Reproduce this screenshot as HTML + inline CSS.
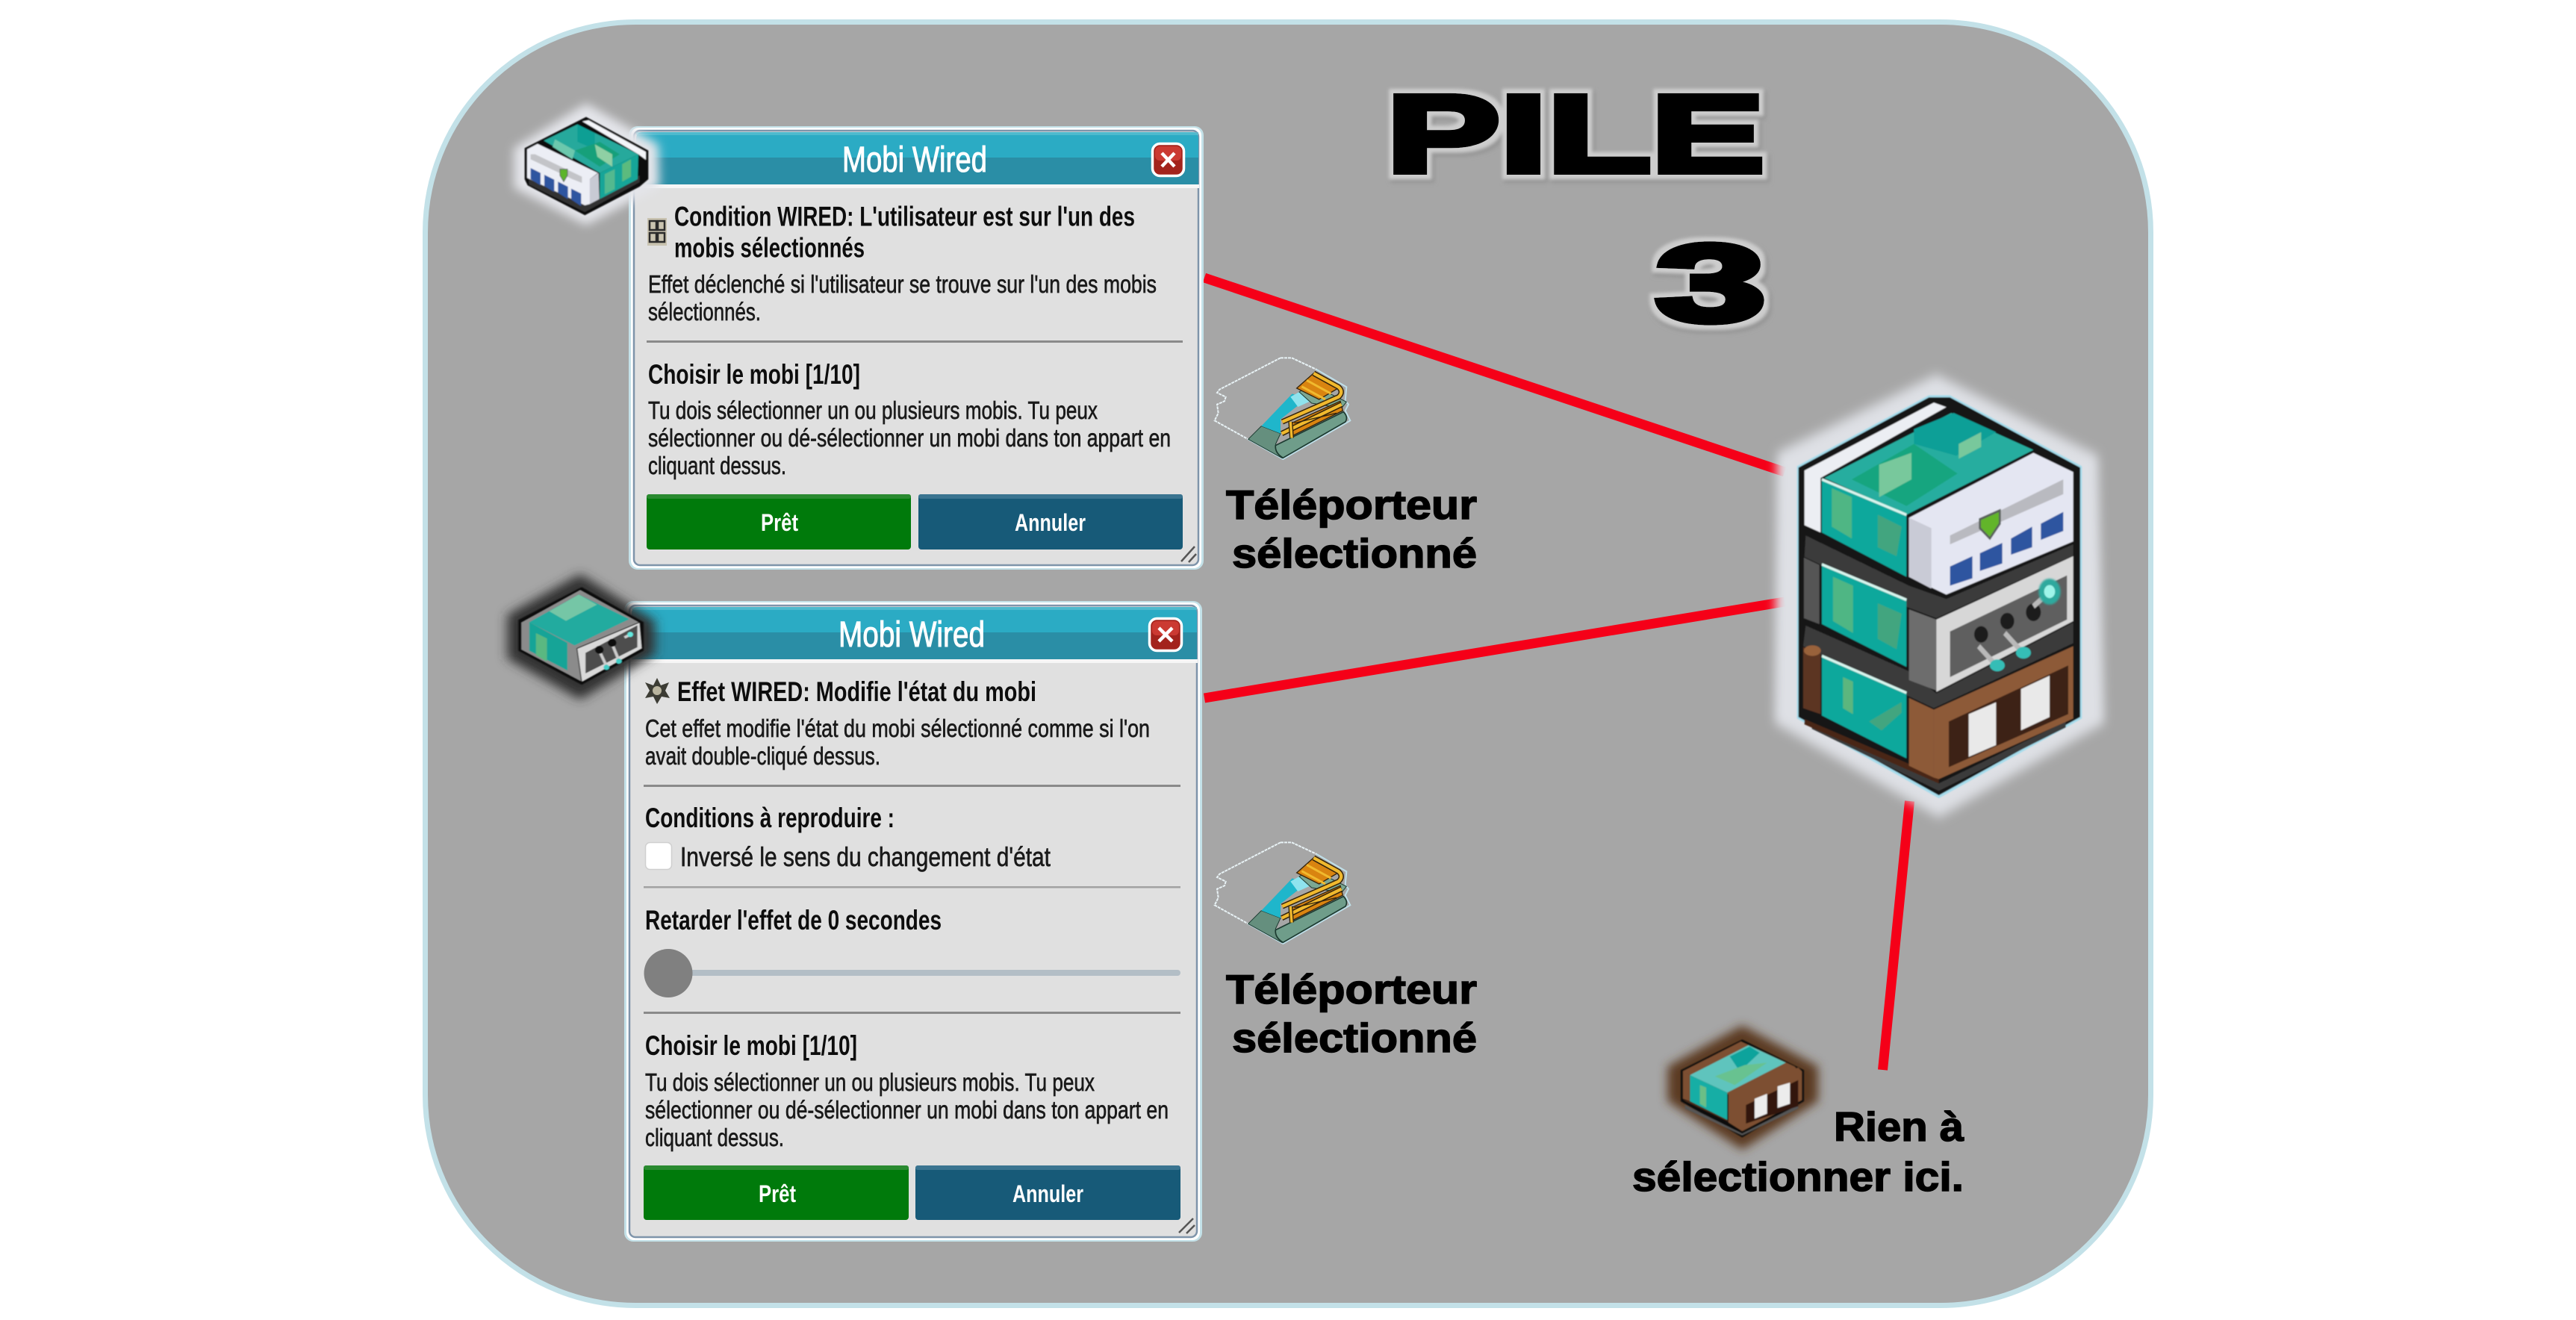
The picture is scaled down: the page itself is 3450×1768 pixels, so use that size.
<!DOCTYPE html>
<html lang="fr"><head><meta charset="utf-8"><title>Pile 3</title>
<style>
html,body{margin:0;padding:0;background:#fff;width:3450px;height:1768px;overflow:hidden}
svg{display:block}
text{font-family:"Liberation Sans",sans-serif}
.b{font-size:33px;fill:#1a1a1a;stroke:#1a1a1a;stroke-width:.65px}
.h{font-size:37px;font-weight:bold;fill:#0d0d0d}
.t{font-size:48px;fill:#fff;stroke:#fff;stroke-width:1px}
.w{font-size:32px;font-weight:bold;fill:#fff}
.l{font-size:54.5px;font-weight:bold;fill:#000;stroke:#000;stroke-width:1.5px}
.p{font-size:147px;font-weight:bold;fill:#000;stroke:#000;stroke-width:8px;stroke-linejoin:miter}
</style></head><body>
<svg width="3450" height="1768" viewBox="0 0 3450 1768" xmlns="http://www.w3.org/2000/svg">
<defs>
<filter id="bl3" x="-30%" y="-30%" width="160%" height="160%"><feGaussianBlur stdDeviation="3"/></filter>
<filter id="bl14" x="-30%" y="-30%" width="160%" height="160%"><feGaussianBlur stdDeviation="12"/></filter>
<filter id="bl20" x="-30%" y="-30%" width="160%" height="160%"><feGaussianBlur stdDeviation="20"/></filter>
<filter id="soft" x="-5%" y="-5%" width="110%" height="110%"><feGaussianBlur stdDeviation="2.2"/></filter>
<filter id="soft1" x="-5%" y="-5%" width="110%" height="110%"><feGaussianBlur stdDeviation="1.1"/></filter>
<filter id="halo" x="-15%" y="-30%" width="130%" height="160%">
<feMorphology in="SourceAlpha" operator="dilate" radius="6" result="d"/>
<feGaussianBlur in="d" stdDeviation="2" result="db"/>
<feFlood flood-color="#cdcdcd"/><feComposite in2="db" operator="in" result="g"/>
<feOffset in="SourceAlpha" dx="3" dy="4" result="o"/>
<feMorphology in="o" operator="dilate" radius="7" result="od"/>
<feGaussianBlur in="od" stdDeviation="3" result="ob"/>
<feFlood flood-color="#8a8a8a" flood-opacity=".6"/><feComposite in2="ob" operator="in" result="s"/>
<feMerge><feMergeNode in="s"/><feMergeNode in="g"/><feMergeNode in="SourceGraphic"/></feMerge>
</filter>
<g id="tele">
<path d="M345,88 L390,88 L490,135 M345,88 L100,215 L90,228 L125,245 L120,262 L90,275 L95,310 L80,340 L215,415" fill="none" stroke="#e8f2f5" stroke-width="6" stroke-dasharray="12 3"/>
<path d="M490,135 L610,205 L605,260 L618,275 L605,300 L625,340 L355,495 L215,415" fill="none" stroke="#bfe0ea" stroke-width="6"/>
<polygon points="215,415 268,362 345,392 325,435 350,490" fill="#658f7e" stroke="#1c3a30" stroke-width="3"/>
<path d="M325,440 L598,305 Q618,325 606,345 L355,490 Q322,470 325,440 Z" fill="#6f9d8a" stroke="#1c3a30" stroke-width="5"/>
<polygon points="268,362 392,232 450,252 345,335 345,392" fill="#1fb6cb"/>
<polygon points="385,245 420,225 465,262 415,285" fill="#8fe3ee"/>
<polygon points="420,225 470,195 610,265 590,290 470,270" fill="#7ba792" stroke="#1c3a30" stroke-width="3"/>
<polygon points="410,210 480,148 585,205 500,255" fill="#d98410" stroke="#33230c" stroke-width="4"/>
<polygon points="385,352 585,262 595,300 395,400" fill="#d98410" stroke="#33230c" stroke-width="4"/>
<path d="M478,150 L578,205 Q600,225 578,245 L352,345" fill="none" stroke="#33230c" stroke-width="22"/>
<path d="M478,150 L578,205 Q600,225 578,245 L352,345" fill="none" stroke="#f0b92e" stroke-width="13"/>
<path d="M350,392 L590,275" fill="none" stroke="#33230c" stroke-width="22"/>
<path d="M350,392 L590,275" fill="none" stroke="#f0b92e" stroke-width="13"/>
<path d="M385,345 L390,410" fill="none" stroke="#33230c" stroke-width="18"/>
<path d="M385,345 L390,410" fill="none" stroke="#f0b92e" stroke-width="10"/>
<path d="M450,178 L548,232 M430,203 L525,255" stroke="#f0b92e" stroke-width="9" fill="none"/>
<path d="M400,350 L570,310" stroke="#33230c" stroke-width="4" fill="none"/>
</g>
</defs>

<rect x="0" y="0" width="3450" height="1768" fill="#fff"/>
<rect x="569.5" y="29.5" width="2311" height="1719" rx="282" ry="282" fill="#a6a6a6" stroke="#c3e1e8" stroke-width="7"/>

<!-- connectors -->
<line x1="1613" y1="372" x2="2390" y2="632" stroke="#f50018" stroke-width="13"/>
<line x1="1613" y1="935" x2="2390" y2="806" stroke="#f50018" stroke-width="13"/>
<line x1="2557.5" y1="1073" x2="2521.5" y2="1433" stroke="#f50018" stroke-width="13"/>

<!-- Panel 1 -->
<rect x="842" y="169" width="770" height="594" rx="12" fill="#c3e1e8"/>
<rect x="845" y="171" width="764" height="590" rx="10" fill="#fff"/>
<rect x="849" y="175" width="756" height="582" rx="8" fill="#e0e0e0" stroke="#7e94aa" stroke-width="2.5"/>
<path d="M852,186 q0,-9 9,-9 H1596 q9,0 9,9 V211 H852 Z" fill="#2babc4"/>
<rect x="852" y="177" width="753" height="4" fill="#5cc0d3" opacity=".7"/>
<rect x="852" y="211" width="753" height="36" fill="#2a8ea6"/>
<rect x="851" y="247" width="755" height="5" fill="#f6f6f6"/>
<text class="t" x="1128" y="230" textLength="194" lengthAdjust="spacingAndGlyphs">Mobi Wired</text>
<rect x="1543.5" y="192.5" width="42" height="43" rx="10" fill="#a3231c" stroke="#fff" stroke-width="3.5"/>
<rect x="1547" y="196" width="35" height="19" rx="6" fill="#cb3a32"/>
<path d="M1556,205 L1573,223 M1573,205 L1556,223" stroke="#fff" stroke-width="4.5"/>
<g>
<rect x="867" y="292" width="26" height="37" fill="#c9c3b0"/>
<rect x="870" y="296" width="9" height="12" fill="none" stroke="#2b2b2b" stroke-width="2.5"/><rect x="881" y="296" width="9" height="12" fill="none" stroke="#2b2b2b" stroke-width="2.5"/>
<rect x="870" y="312" width="9" height="12" fill="none" stroke="#2b2b2b" stroke-width="2.5"/><rect x="881" y="312" width="9" height="12" fill="none" stroke="#2b2b2b" stroke-width="2.5"/>
</g>
<text class="h" x="903" y="302.5" textLength="617" lengthAdjust="spacingAndGlyphs">Condition WIRED: L'utilisateur est sur l'un des</text>
<text class="h" x="903" y="344.5" textLength="255" lengthAdjust="spacingAndGlyphs">mobis sélectionnés</text>
<text class="b" x="868" y="392" textLength="681" lengthAdjust="spacingAndGlyphs">Effet déclenché si l'utilisateur se trouve sur l'un des mobis</text>
<text class="b" x="868" y="429" textLength="151" lengthAdjust="spacingAndGlyphs">sélectionnés.</text>
<rect x="866" y="456" width="718" height="3" fill="#8a8a8a"/>
<text class="h" x="868" y="514" textLength="284" lengthAdjust="spacingAndGlyphs">Choisir le mobi [1/10]</text>
<text class="b" x="868" y="561" textLength="602" lengthAdjust="spacingAndGlyphs">Tu dois sélectionner un ou plusieurs mobis. Tu peux</text>
<text class="b" x="868" y="598" textLength="700" lengthAdjust="spacingAndGlyphs">sélectionner ou dé-sélectionner un mobi dans ton appart en</text>
<text class="b" x="868" y="635" textLength="185" lengthAdjust="spacingAndGlyphs">cliquant dessus.</text>
<rect x="866" y="662" width="354" height="74" rx="4" fill="#007a0b"/><rect x="866" y="662" width="354" height="6" rx="3" fill="#2a8a30"/>
<rect x="1230" y="662" width="354" height="74" rx="4" fill="#175a78"/><rect x="1230" y="662" width="354" height="6" rx="3" fill="#3a7490"/>
<text class="w" x="1019" y="711" textLength="50" lengthAdjust="spacingAndGlyphs">Prêt</text>
<text class="w" x="1359" y="711" textLength="95" lengthAdjust="spacingAndGlyphs">Annuler</text>
<path d="M1582,752 L1600,732 M1592,753 L1602,742" stroke="#555" stroke-width="2.5"/>

<!-- Panel 2 -->
<rect x="836" y="805" width="774" height="858" rx="12" fill="#c3e1e8"/>
<rect x="839" y="807" width="768" height="854" rx="10" fill="#fff"/>
<rect x="843" y="811" width="760" height="846" rx="8" fill="#e0e0e0" stroke="#7e94aa" stroke-width="2.5"/>
<path d="M846,822 q0,-9 9,-9 H1594 q9,0 9,9 V847 H846 Z" fill="#2babc4"/>
<rect x="846" y="813" width="757" height="4" fill="#5cc0d3" opacity=".7"/>
<rect x="846" y="847" width="757" height="36" fill="#2a8ea6"/>
<rect x="845" y="883" width="759" height="5" fill="#f6f6f6"/>
<text class="t" x="1123" y="866" textLength="196" lengthAdjust="spacingAndGlyphs">Mobi Wired</text>
<rect x="1539.5" y="828.5" width="43" height="43" rx="10" fill="#a3231c" stroke="#fff" stroke-width="3.5"/>
<rect x="1543" y="832" width="36" height="19" rx="6" fill="#cb3a32"/>
<path d="M1552,841 L1570,859 M1570,841 L1552,859" stroke="#fff" stroke-width="4.5"/>
<g fill="#3c3c34">
<polygon points="880,908 885,918 896,914 891,925 897,935 886,933 880,943 875,933 864,935 870,925 864,914 875,918"/>
<circle cx="880" cy="925" r="6" fill="#b9b49e"/>
</g>
<text class="h" x="907" y="939" textLength="481" lengthAdjust="spacingAndGlyphs">Effet WIRED: Modifie l'état du mobi</text>
<text class="b" x="864" y="987" textLength="676" lengthAdjust="spacingAndGlyphs">Cet effet modifie l'état du mobi sélectionné comme si l'on</text>
<text class="b" x="864" y="1024" textLength="315" lengthAdjust="spacingAndGlyphs">avait double-cliqué dessus.</text>
<rect x="862" y="1051" width="719" height="3" fill="#8a8a8a"/>
<text class="h" x="864" y="1108" textLength="334" lengthAdjust="spacingAndGlyphs">Conditions à reproduire :</text>
<rect x="864.5" y="1128.5" width="35" height="36" rx="6" fill="#fff" stroke="#cfcfcf" stroke-width="1.5"/>
<text class="b" style="font-size:36px" x="911" y="1160" textLength="496" lengthAdjust="spacingAndGlyphs">Inversé le sens du changement d'état</text>
<rect x="862" y="1187" width="719" height="2.5" fill="#a2a2a2"/>
<text class="h" x="864" y="1245" textLength="397" lengthAdjust="spacingAndGlyphs">Retarder l'effet de 0 secondes</text>
<rect x="895" y="1299" width="686" height="8" rx="4" fill="#b3bec6"/>
<circle cx="895" cy="1303.5" r="32.5" fill="#808080"/>
<rect x="862" y="1355" width="719" height="3" fill="#8a8a8a"/>
<text class="h" x="864" y="1413" textLength="284" lengthAdjust="spacingAndGlyphs">Choisir le mobi [1/10]</text>
<text class="b" x="864" y="1461" textLength="602" lengthAdjust="spacingAndGlyphs">Tu dois sélectionner un ou plusieurs mobis. Tu peux</text>
<text class="b" x="864" y="1498" textLength="701" lengthAdjust="spacingAndGlyphs">sélectionner ou dé-sélectionner un mobi dans ton appart en</text>
<text class="b" x="864" y="1535" textLength="186" lengthAdjust="spacingAndGlyphs">cliquant dessus.</text>
<rect x="862" y="1561" width="355" height="73" rx="4" fill="#007a0b"/><rect x="862" y="1561" width="355" height="6" rx="3" fill="#2a8a30"/>
<rect x="1226" y="1561" width="355" height="73" rx="4" fill="#175a78"/><rect x="1226" y="1561" width="355" height="6" rx="3" fill="#3a7490"/>
<text class="w" x="1016" y="1610" textLength="50" lengthAdjust="spacingAndGlyphs">Prêt</text>
<text class="w" x="1356" y="1610" textLength="95" lengthAdjust="spacingAndGlyphs">Annuler</text>
<path d="M1579,1651 L1598,1632 M1589,1652 L1600,1641" stroke="#555" stroke-width="2.5"/>

<!-- Sprite white small -->
<g transform="translate(540,10) scale(.3333)">
<polygon points="735,385 1025,550 1030,720 735,875 445,725 445,565" fill="#e4e5ea" filter="url(#bl20)"/>
<g filter="url(#soft)">
<polygon points="735,440 985,575 985,690 950,720 730,835 500,715 488,690 488,565" fill="#0c0c0c"/>
<polygon points="505,712 730,822 950,702 950,675 730,790 505,675" fill="#333"/>
<polygon points="565,535 700,470 945,590 790,665" fill="#26a99c"/>
<polygon points="700,470 770,505 770,570 700,540" fill="#0f9f94"/>
<polygon points="690,575 790,540 870,590 790,640" fill="#18a07a"/>
<polygon points="770,550 840,590 840,640 780,600" fill="#8fd0a4"/>
<polygon points="610,530 690,575 680,610 600,560" fill="#6cc8ad"/>
<polygon points="720,458 745,453 975,580 975,612 945,590" fill="#f4f5f9"/>
<polygon points="790,665 945,590 942,690 790,770" fill="#18a598"/>
<polygon points="880,630 915,610 915,680 880,700" fill="#5cbb7e"/>
<polygon points="810,670 850,650 850,730 810,750" fill="#53b98f"/>
<polygon points="498,570 540,548 782,665 750,690 750,790 730,795 498,685" fill="#eceef5"/>
<polygon points="750,690 785,665 788,770 750,790" fill="#c8cad4"/>
<polygon points="512,590 530,590 718,680 718,705 680,690 512,610" fill="#c3c4c8"/>
<polygon points="512,645 552,665 552,715 512,690" fill="#2d54a0"/>
<polygon points="567,672 607,692 607,742 567,718" fill="#2d54a0"/>
<polygon points="622,700 662,720 662,770 622,745" fill="#2d54a0"/>
<polygon points="675,728 715,748 715,798 675,772" fill="#2d54a0"/>
<polygon points="630,650 660,650 660,675 645,700 630,675" fill="#5bb52c" stroke="#555" stroke-width="3"/>
</g>
</g>

<!-- Sprite dark small -->
<g transform="translate(640,760) scale(.6378,.5869)">
<polygon points="215,15 372,122 372,198 215,302 62,208 62,108" fill="#303030" filter="url(#bl14)"/>
<g filter="url(#soft1)">
<polygon points="218,45 348,125 348,190 218,268 85,190 85,120" fill="#111"/>
<polygon points="90,125 215,50 340,125 340,188 218,262 90,188" fill="#8b8b8b" stroke="#111" stroke-width="3"/>
<polygon points="108,125 212,62 318,118 203,178" fill="#22ab9f"/>
<polygon points="150,100 212,62 250,85 185,122" fill="#74c6a6"/>
<polygon points="108,125 188,172 188,235 108,190" fill="#16a497"/>
<polygon points="122,150 145,162 145,215 122,200" fill="#5ab881"/>
<polygon points="208,185 340,125 345,185 218,262" fill="#d9d9d9" stroke="#111" stroke-width="2"/>
<polygon points="226,195 335,132 335,182 226,242" fill="#4d4d4d"/>
<path d="M255,190 L270,225 M282,175 L296,212 M308,160 L322,152" stroke="#ccc" stroke-width="6"/>
<circle cx="255" cy="188" r="9" fill="#111"/><circle cx="282" cy="172" r="9" fill="#111"/>
<circle cx="270" cy="228" r="6" fill="#43cdc6"/><circle cx="296" cy="214" r="6" fill="#43cdc6"/><circle cx="320" cy="153" r="6" fill="#63e8df"/>
</g>
</g>

<!-- Teleporter sprites -->
<use href="#tele" transform="translate(1600,450) scale(.3333)"/>
<use href="#tele" transform="translate(1600,1099) scale(.3333)"/>

<!-- Big stack -->
<g transform="translate(2340,480) scale(.3333,.3954)">
<polygon points="760,55 1410,330 1435,1235 770,1555 110,1235 120,320" fill="#dee0e5" filter="url(#bl20)"/>
<g filter="url(#soft)">
<polygon points="730,125 815,125 1345,365 1345,1220 770,1490 200,1220 200,365" fill="#a5dcec"/>
<polygon points="730,132 815,132 1338,370 1338,1215 770,1480 206,1215 206,370" fill="#151515"/>
<!-- dark hatched bands -->
<polygon points="235,600 650,770 800,815 1310,630 1310,668 760,880 650,845 230,672" fill="#3a3a3a"/>
<polygon points="235,905 650,1060 760,1135 1310,895 1310,965 750,1185 650,1145 225,975" fill="#3a3a3a"/>
<polygon points="260,1235 770,1440 1280,1230 1280,1250 770,1465 260,1255" fill="#3a3a3a"/>
<!-- top module -->
<polygon points="230,380 750,150 800,165 295,405 295,590 230,565" fill="#eceef3"/>
<polygon points="310,405 820,185 1150,310 640,530" fill="#28ad9f"/>
<polygon points="420,410 670,290 845,390 640,500" fill="#12a57f"/>
<polygon points="670,240 830,185 1000,250 840,330 670,290" fill="#119f97"/>
<polygon points="530,360 660,320 660,410 530,470" fill="#78c89c"/>
<polygon points="850,290 940,250 940,300 850,340" fill="#78c89c"/>
<polygon points="300,410 640,530 640,740 300,590" fill="#0fa89c"/>
<polygon points="340,440 420,470 420,610 340,570" fill="#4fb684"/>
<polygon points="525,530 620,570 600,670 525,640" fill="#42a57f"/>
<polyline points="300,410 640,530" stroke="#d8f5ee" stroke-width="9" fill="none"/>
<polygon points="650,540 1150,320 1310,385 1310,620 800,800 650,740" fill="#e4e6f2"/>
<polygon points="650,540 740,575 740,780 650,740" fill="#c9cbd6"/>
<polygon points="815,600 1270,410 1270,460 815,630" fill="#b9bac0"/>
<polygon points="815,705 905,670 905,745 815,770" fill="#2d54a0"/>
<polygon points="935,660 1025,625 1025,695 935,720" fill="#2d54a0"/>
<polygon points="1060,610 1145,570 1145,640 1060,665" fill="#2d54a0"/>
<polygon points="1180,560 1270,520 1270,585 1180,615" fill="#2d54a0"/>
<polygon points="935,545 1015,515 1015,560 975,610 935,575" fill="#62b52b" stroke="#59605a" stroke-width="8"/>
<!-- middle module -->
<polygon points="228,675 290,700 290,900 228,880" fill="#555"/>
<polygon points="300,695 640,815 640,1045 300,900" fill="#0fa89c"/>
<polygon points="345,740 425,770 425,930 345,890" fill="#4fb684"/>
<polygon points="525,830 620,865 600,985 525,950" fill="#42a57f"/>
<polyline points="300,698 640,818" stroke="#d8f5ee" stroke-width="9" fill="none"/>
<polygon points="650,850 760,885 760,1125 650,1090" fill="#6d6d6d"/>
<polygon points="760,885 1310,670 1310,890 760,1130" fill="#d7d7d7"/>
<polygon points="815,925 1285,735 1285,885 815,1080" fill="#5f5f5f"/>
<circle cx="940" cy="935" r="28" fill="#1a1a1a"/><circle cx="1045" cy="890" r="28" fill="#1a1a1a"/><circle cx="1150" cy="860" r="30" fill="#1a1a1a"/>
<path d="M930,975 L1000,1040 M1035,930 L1105,995 M1150,840 L1210,795" stroke="#b9b9b9" stroke-width="18"/>
<ellipse cx="1005" cy="1040" rx="30" ry="20" fill="#35bdb6"/><ellipse cx="1110" cy="997" rx="30" ry="20" fill="#35bdb6"/>
<circle cx="1215" cy="790" r="44" fill="#2ea99e" filter="url(#bl3)"/><circle cx="1215" cy="790" r="22" fill="#9ff5ea"/>
<!-- bottom module -->
<polygon points="225,978 295,1000 295,1205 225,1185" fill="#5b3420"/>
<ellipse cx="262" cy="990" rx="34" ry="18" fill="#99623a"/>
<polygon points="300,1005 640,1130 640,1355 300,1210" fill="#10a89c"/>
<polygon points="385,1080 425,1095 425,1205 385,1185" fill="#5bb67e"/>
<polygon points="490,1230 620,1165 620,1200 540,1260" fill="#42a57f"/>
<polyline points="300,1008 640,1133" stroke="#d8f5ee" stroke-width="9" fill="none"/>
<polygon points="230,1222 640,1370 770,1415 770,1440 230,1240" fill="#4a2815"/>
<polygon points="650,1150 750,1190 750,1420 650,1380" fill="#8d5a38"/>
<polygon points="750,1190 1310,975 1310,1220 770,1425 750,1420" fill="#8d5a38"/>
<polygon points="810,1230 1290,1040 1290,1205 810,1385" fill="#3e2314"/>
<polygon points="890,1205 1000,1165 1000,1310 890,1350" fill="#e9e9e9"/>
<polygon points="1100,1120 1215,1075 1215,1215 1100,1260" fill="#e9e9e9"/>
</g>
</g>

<!-- Sprite brown small -->
<g transform="translate(2150,1360) scale(.3333)">
<polygon points="550,40 855,205 855,345 550,540 250,345 250,205" fill="#5c3a20" filter="url(#bl20)"/>
<g filter="url(#soft)">
<polygon points="550,97 798,220 798,345 550,490 303,345 303,220" fill="#0e0e0e"/>
<polygon points="320,360 550,475 775,360 775,375 550,482 320,375" fill="#555"/>
<polygon points="310,225 545,105 760,205 780,225 550,345" fill="#7d4f30"/>
<polygon points="340,240 575,120 725,190 490,310" fill="#5fc4bd"/>
<polygon points="500,165 580,125 620,150 540,225" fill="#0aa39c"/>
<polygon points="440,245 560,200 650,190 520,280" fill="#68c290"/>
<polygon points="340,240 490,310 490,420 340,345" fill="#18aea5"/>
<polygon points="380,280 405,290 405,370 380,355" fill="#6abf86"/>
<polygon points="312,225 340,240 340,345 312,335" fill="#7d4f30"/>
<polygon points="340,345 490,420 500,430 312,340" fill="#4a2c18"/>
<polygon points="495,315 775,210 790,225 790,340 550,465 495,430" fill="#7d4f30"/>
<polygon points="565,360 775,260 775,365 565,435" fill="#30190e"/>
<polygon points="600,335 650,315 650,395 600,415" fill="#ececec"/>
<polygon points="692,285 742,270 742,355 692,372" fill="#ececec"/>
</g>
</g>

<!-- Headline -->
<text class="p" x="1857" y="230" textLength="506" lengthAdjust="spacingAndGlyphs" filter="url(#halo)">PILE</text>
<text class="p" x="2217" y="430" textLength="148" lengthAdjust="spacingAndGlyphs" filter="url(#halo)">3</text>

<!-- Labels -->
<text class="l" x="1642" y="695" textLength="336" lengthAdjust="spacingAndGlyphs">Téléporteur</text>
<text class="l" x="1650" y="760" textLength="328" lengthAdjust="spacingAndGlyphs">sélectionné</text>
<text class="l" x="1642" y="1344" textLength="336" lengthAdjust="spacingAndGlyphs">Téléporteur</text>
<text class="l" x="1650" y="1409" textLength="328" lengthAdjust="spacingAndGlyphs">sélectionné</text>
<text class="l" x="2456" y="1528" textLength="174" lengthAdjust="spacingAndGlyphs">Rien à</text>
<text class="l" x="2186" y="1595" textLength="444" lengthAdjust="spacingAndGlyphs">sélectionner ici.</text>
</svg>
</body></html>
